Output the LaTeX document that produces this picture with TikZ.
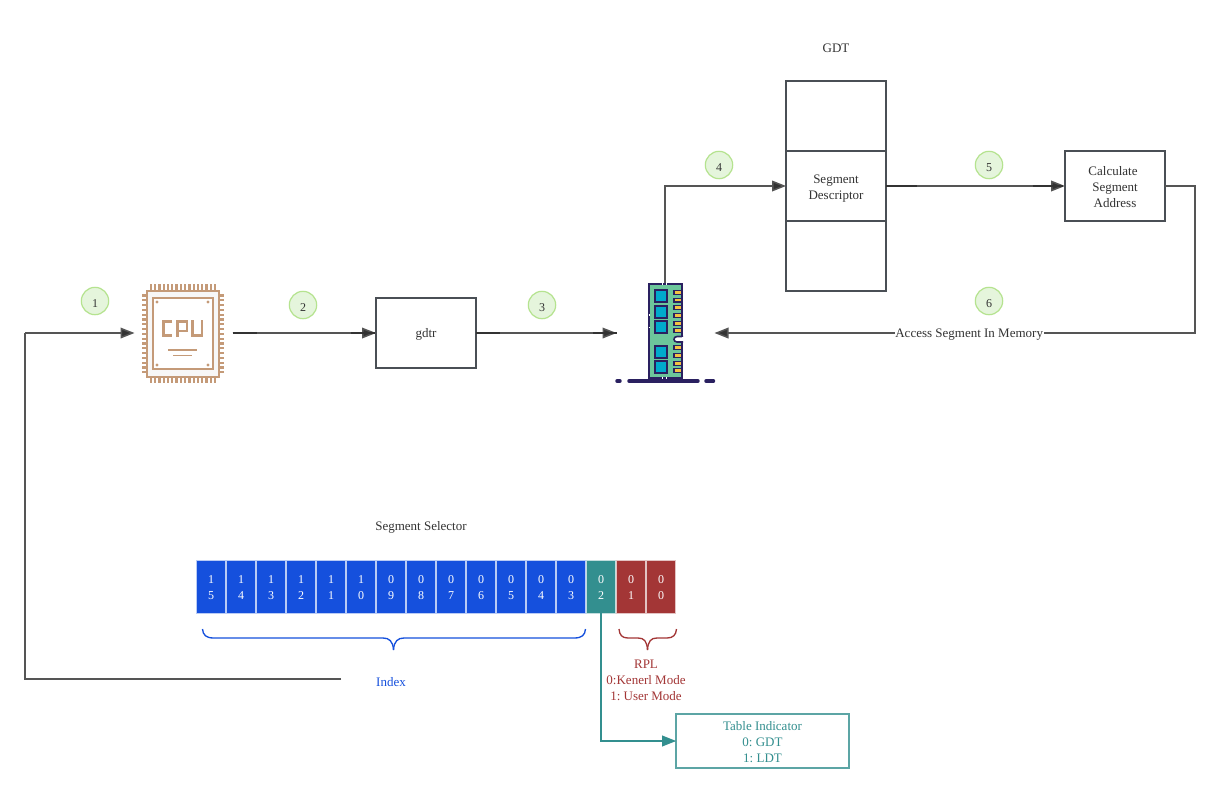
\documentclass[tikz,border=0pt]{standalone}
\usepackage{fontspec}
\setmainfont{Liberation Serif}
\usetikzlibrary{arrows.meta}
\definecolor{ink}{HTML}{333333}
\definecolor{edgegray}{HTML}{555555}
\definecolor{boxline}{HTML}{4A4F55}
\definecolor{bblue}{HTML}{1550DD}
\definecolor{bred}{HTML}{A33636}
\definecolor{bteal}{HTML}{338F8F}
\definecolor{cputan}{HTML}{C49A78}
\definecolor{navy}{HTML}{2A2060}
\definecolor{ramgreen}{HTML}{6CC69B}
\definecolor{chipcyan}{HTML}{00AACC}
\definecolor{gold}{HTML}{F5C242}
\definecolor{numline}{HTML}{B5E38F}
\definecolor{numfill}{HTML}{E5F5DC}
\newcommand\liftline[1]{\rule{0pt}{#1pt}}
\tikzset{
  txt/.style={font=\fontsize{9.75}{12}\selectfont\frenchspacing,text=ink,align=center,inner sep=0pt,outer sep=0pt,execute at begin node={\rule{0pt}{9.5pt}}},
  boxn/.style={txt,draw=boxline,line width=1.1pt,minimum width=75pt,minimum height=52.5pt,fill=white},
  ghost/.style={inner sep=0pt,outer sep=0pt,minimum width=73.5pt,minimum height=75pt},
  num/.style={txt,circle,draw=numline,fill=numfill,line width=0.9pt,minimum size=20.5pt,font=\fontsize{9}{12}\selectfont},
  conn/.style={draw=edgegray,line width=1.15pt,-{Triangle[length=10.5pt,width=8pt,fill=ink]}},
  plainconn/.style={draw=edgegray,line width=1.15pt},
  darkends/.style={draw=ink,line width=1.15pt},
  cell/.style={txt,text=white,fill=#1,draw=#1!30!white,line width=0.5pt,minimum width=21.4pt,minimum height=39.5pt,font=\fontsize{9}{12}\selectfont},
  brace/.style={draw=#1,line width=1pt}
}
\begin{document}
\begin{tikzpicture}[x=0.75pt,y=-0.75pt]
\useasboundingbox (0,0) rectangle (1219,793);
\fill[white] (0,0) rectangle (1219,793);

% hidden anchors of the two icons
\node[ghost] (cpu) at (183.5,333) {};
\node[ghost] (ram) at (665.5,333) {};

% boxes
\node[boxn] (gdtr) at (426,333) {gdtr};
\node[boxn] (gdta) at (836,116) {};
\node[boxn] (gdtb) at (836,186) {\liftline{11}Segment\\Descriptor};
\node[boxn] (gdtc) at (836,256) {};
\node[boxn] (calc) at (1115,186) {\liftline{8.5}Calculate\hspace*{3pt}\\Segment\hspace*{3pt}\\Address};
\node[txt] (gdtlabel) at (836,46) {GDT};
\node[txt] (sellabel) at (421,526) {Segment Selector};

% numbered circles
\node[num] (n1) at (95,301) {1};
\node[num] (n2) at (303,305) {2};
\node[num] (n3) at (542,305) {3};
\node[num] (n4) at (719,165) {4};
\node[num] (n5) at (989,165) {5};
\node[num] (n6) at (989,301) {6};

% bit cells
\foreach \nm/\tx/\c [count=\i from 0] in {b15/1\\5/bblue,b14/1\\4/bblue,b13/1\\3/bblue,b12/1\\2/bblue,b11/1\\1/bblue,b10/1\\0/bblue,b09/0\\9/bblue,b08/0\\8/bblue,b07/0\\7/bblue,b06/0\\6/bblue,b05/0\\5/bblue,b04/0\\4/bblue,b03/0\\3/bblue,b02/0\\2/bteal,b01/0\\1/bred,b00/0\\0/bred}{
  \node[cell=\c] (\nm) at ({211+30*\i},586.5) {\liftline{8.2}\tx};
}

% braces
\draw[brace=bblue] (202.5,629) .. controls (203,635) and (206,638) .. (214,638) -- (383,638) .. controls (389,638) and (393,641) .. (393.5,650);
\draw[brace=bblue] (393.5,650) .. controls (394,641) and (398,638) .. (404,638) -- (574,638) .. controls (582,638) and (585,635) .. (585.5,629);
\draw[brace=bred] (619,629) .. controls (619.5,635) and (622,638) .. (628,638) -- (638,638) .. controls (644,638) and (647,641) .. (647.5,650);
\draw[brace=bred] (647.5,650) .. controls (648,641) and (651,638) .. (657,638) -- (667,638) .. controls (673,638) and (676,635) .. (676.5,629);

% labels below the register
\node[txt,text=bblue,minimum width=75pt] (index) at (391,680) {Index};
\node[txt,text=bred] (rpl) at (646,680) {RPL\\0:Kenerl Mode\\1: User Mode};
\node[txt,text=bteal,draw=bteal!80!white,line width=1.1pt,minimum width=129.5pt,minimum height=40.5pt,fill=white] (ti) at (762.5,741) {\liftline{8.5}Table Indicator\\0: GDT\\1: LDT};

% connectors
\coordinate (c1a) at (25,679);
\coordinate (c1b) at (25,333);
\coordinate (c4a) at (665,186);
\coordinate (c6a) at (1195,186);
\coordinate (c6b) at (1195,333);
\coordinate (t2) at (601,741);
\draw[plainconn] (index.west |- c1a) -- (c1a) -- (c1b);
\draw[conn] (c1b) -- (cpu.west);
\draw[conn] (cpu.east) -- (gdtr.west);
\draw[darkends,dash pattern=on 18pt off 71pt on 18pt] (cpu.east) -- (gdtr.west);
\draw[conn] (gdtr.east) -- (ram.west);
\draw[darkends,dash pattern=on 18pt off 70pt on 18pt] (gdtr.east) -- (ram.west);
\draw[conn] (ram.north -| c4a) -- (c4a) -- (gdtb.west);
\draw[conn] (gdtb.east) -- (calc.west);
\draw[darkends,dash pattern=on 23pt off 87pt on 23pt] (gdtb.east) -- (calc.west);
\draw[conn] (calc.east) -- (c6a) -- (c6b) -- node[txt,fill=white,pos=0.47,inner xsep=0.5pt] (lab6) {Access Segment In Memory} (ram.east);
\draw[draw=bteal,line width=1.15pt,-{Triangle[length=10.5pt,width=8pt,fill=bteal]}] (b02.south) -- (t2) -- (ti.west);

% CPU icon
\foreach \k in {0,...,15}{
  \draw[cputan,line width=1.7pt] ({151+4.27*\k},284) -- ({151+4.27*\k},290);
  \draw[cputan,line width=1.7pt] ({151+4.27*\k},377.5) -- ({151+4.27*\k},383);
}
\foreach \k in {0,...,16}{
  \draw[cputan,line width=1.7pt] (142,{295.5+4.8*\k}) -- (147,{295.5+4.8*\k});
  \draw[cputan,line width=1.7pt] (219,{295.5+4.8*\k}) -- (224,{295.5+4.8*\k});
}
\draw[cputan,line width=1.5pt,fill=black!3] (147,291) rectangle (219,377);
\draw[cputan,line width=1.5pt,fill=white] (153,297.5) rectangle (212.5,369);
\foreach \p/\q in {157/302,208/302,157/365,208/365}{\fill[cputan] (\p,\q) circle (1.6);}
\draw[cputan,line width=2.1pt] (172,321.5) -- (163.5,321.5) -- (163.5,335.5) -- (172,335.5);
\draw[cputan,line width=2.1pt] (177.5,337) -- (177.5,321.5) -- (187,321.5) -- (187,331) -- (177.5,331);
\draw[cputan,line width=2.1pt] (192.5,320) -- (192.5,335.5) -- (202,335.5) -- (202,320);
\draw[cputan,line width=0.9pt] (168,350) -- (197,350);
\draw[cputan,line width=0.7pt] (173,355.5) -- (192,355.5);

% RAM icon
\draw[navy,line width=1.5pt,fill=ramgreen] (649,284) rectangle (681.5,378);
\foreach \yy in {290,306,321,346,361}{
  \draw[navy,line width=1.5pt,fill=chipcyan] (655,\yy) rectangle (666.5,{\yy+12});
}
\foreach \yy in {290,297.5,305,313,321,328,345,353,361,368}{
  \fill[navy] (673,\yy) rectangle (681.5,{\yy+5});
  \fill[gold] (675,{\yy+1.2}) rectangle (680.5,{\yy+3.8});
}
\filldraw[draw=navy,fill=white,line width=1.2pt] (683,336.5) -- (677,336.5) .. controls (673,336.5) and (673,342) .. (677,342) -- (683,342);
\fill[white] (682.3,337.2) rectangle (684,341.3);
\draw[white,line width=1pt] (648.5,315) -- (650,315);
\draw[white,line width=1pt] (648.5,327.5) -- (650,327.5);
\draw[white,line width=0.8pt] (662,284) -- (663,284) (666,284) -- (667,284) (662,378) -- (663,378) (666,378) -- (667,378);
\draw[navy,line width=2.6pt,line cap=round] (617,381) -- (620,381);
\draw[navy,line width=2.6pt,line cap=round] (629,381) -- (698,381);
\draw[navy,line width=2.6pt,line cap=round] (706,381) -- (713.5,381);
\end{tikzpicture}
\end{document}
